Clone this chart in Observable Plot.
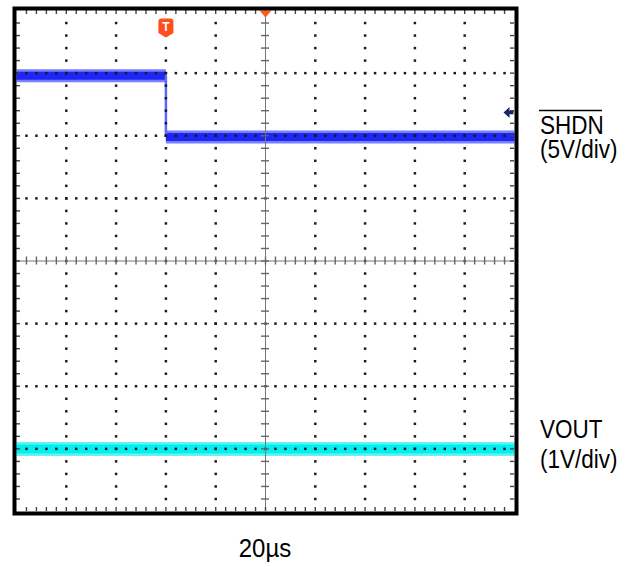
<!DOCTYPE html>
<html>
<head>
<meta charset="utf-8">
<script src="https://cdn.jsdelivr.net/npm/d3@7"></script>
<script src="https://cdn.jsdelivr.net/npm/@observablehq/plot@0.6"></script>
<style>
  html, body { margin: 0; padding: 0; background: #fff; overflow: hidden; }
  #chart svg { display: block; }
</style>
</head>
<body>
<div id="chart"></div>
<script>
// ---- Data (oscilloscope divisions; x: time div, y: vertical div) ----
const shdnHighTime = [-5, -2];
const shdnHighLevel = [2.96, 2.96];
const shdnLowTime = [-2, 5];
const shdnLowLevel = [1.98, 1.98];
const shdnEdgeTime = [-2];
const shdnEdgeFrom = [2.96];
const shdnEdgeTo = [1.98];
const voutTime = [-5, 5];
const voutLevel = [-3, -3];
const triggerTime = [-2];
const triggerPosition = [0];
const shdnRefLevel = [2.37];
const channelLabels = ["SHDN", "(5V/div)", "VOUT", "(1V/div)"];
const timebaseLabel = "20µs";

// ---- Layout ----
const W = 632, H = 567;
const mL = 16, mR = 118, mT = 10, mB = 56;
const pxX = (W - mL - mR) / 10;
const pxY = (H - mT - mB) / 8;

const high = shdnHighTime.map((t, i) => ({t, v: shdnHighLevel[i]}));
const low = shdnLowTime.map((t, i) => ({t, v: shdnLowLevel[i]}));
const vout = voutTime.map((t, i) => ({t, v: voutLevel[i]}));
const edge = shdnEdgeTime.map((t, i) => ({t, y1: shdnEdgeFrom[i], y2: shdnEdgeTo[i]}));

// grid
const round = v => Math.round(v * 100) / 100;
const minorX = d3.range(-24, 25).map(i => round(i * 0.2));
const minorY = d3.range(-19, 20).map(i => round(i * 0.2));
const gridDots = [];
for (const gx of [-4, -3, -2, -1, 1, 2, 3, 4]) for (const y of minorY) gridDots.push({x: gx, y});
for (const gy of [-3, -2, -1, 1, 2, 3]) for (const x of minorX) gridDots.push({x, y: gy});

const tL = 4; // edge tick length px
const tC = 4; // center tick half length px

const shield = {draw(ctx) {
  ctx.moveTo(-7.5, -6.5);
  ctx.quadraticCurveTo(-7.5, -9.5, -4.5, -9.5);
  ctx.lineTo(4.5, -9.5);
  ctx.quadraticCurveTo(7.5, -9.5, 7.5, -6.5);
  ctx.lineTo(7.5, 5);
  ctx.lineTo(0, 9.5);
  ctx.lineTo(-7.5, 5);
  ctx.closePath();
}};
const downTri = {draw(ctx) {
  ctx.moveTo(-6, -3.5); ctx.lineTo(6, -3.5); ctx.lineTo(0, 3.5); ctx.closePath();
}};
const leftArrow = {draw(ctx) {
  ctx.moveTo(-5, 0); ctx.lineTo(1, -5.5); ctx.lineTo(1, -1.6);
  ctx.lineTo(5, -1.6); ctx.lineTo(5, 1.6); ctx.lineTo(1, 1.6);
  ctx.lineTo(1, 5.5); ctx.closePath();
}};

const chart = Plot.plot({
  width: W, height: H,
  marginLeft: mL, marginRight: mR, marginTop: mT, marginBottom: mB,
  x: {domain: [-5, 5], axis: null},
  y: {domain: [-4, 4], axis: null},
  style: {background: "#fff"},
  marks: [
    // traces
    Plot.line(high, {x: "t", y: "v", stroke: "#7480ff", strokeWidth: 13, strokeLinecap: "butt"}),
    Plot.line(high, {x: "t", y: "v", stroke: "#1f26f4", strokeWidth: 8, strokeLinecap: "butt"}),
    Plot.line(low, {x: "t", y: "v", stroke: "#7480ff", strokeWidth: 13, strokeLinecap: "butt"}),
    Plot.line(low, {x: "t", y: "v", stroke: "#1f26f4", strokeWidth: 8, strokeLinecap: "butt"}),
    Plot.ruleX(edge, {x: "t", y1: "y1", y2: "y2", stroke: "#5a66ff", strokeWidth: 2.5}),
    Plot.line(vout, {x: "t", y: "v", stroke: "#66f2f2", strokeWidth: 14, strokeLinecap: "butt"}),
    Plot.line(vout, {x: "t", y: "v", stroke: "#00f0f0", strokeWidth: 9, strokeLinecap: "butt"}),
    // dotted grid
    Plot.dot(gridDots, {x: "x", y: "y", symbol: "square", r: 1.4, fill: "#1a1a1a", stroke: null}),
    // center axes
    Plot.ruleY([0], {stroke: "#777", strokeWidth: 1}),
    Plot.ruleX([0], {stroke: "#777", strokeWidth: 1}),
    Plot.ruleX(minorX, {y1: -tC / pxY, y2: tC / pxY, stroke: "#666", strokeWidth: 1.4}),
    Plot.ruleY(minorY, {x1: -tC / pxX, x2: tC / pxX, stroke: "#666", strokeWidth: 1.4}),
    // edge ticks
    Plot.ruleX(minorX, {y1: 4, y2: 4 - tL / pxY, stroke: "#444", strokeWidth: 1.4}),
    Plot.ruleX(minorX, {y1: -4, y2: -4 + tL / pxY, stroke: "#444", strokeWidth: 1.4}),
    Plot.ruleY(minorY, {x1: -5, x2: -5 + tL / pxX, stroke: "#444", strokeWidth: 1.4}),
    Plot.ruleY(minorY, {x1: 5, x2: 5 - tL / pxX, stroke: "#444", strokeWidth: 1.4}),
    // markers
    Plot.dot(triggerTime, {x: d => d, y: 4, dy: 17.5, symbol: shield, r: 5, fill: "#ff4d1c", stroke: null}),
    Plot.text(triggerTime, {x: d => d, y: 4, dy: 16.5, text: () => "T", fill: "white", fontSize: 12, fontWeight: "bold", fontFamily: "Liberation Sans, Arial, sans-serif"}),
    Plot.dot(triggerPosition, {x: d => d, y: 4, dy: 3.5, symbol: downTri, r: 5, fill: "#ff5a1a", stroke: null}),
    Plot.dot(shdnRefLevel, {x: 5, y: d => d, dx: -6, symbol: leftArrow, r: 5, fill: "#1a2570", stroke: null}),
    // frame
    Plot.frame({stroke: "black", strokeWidth: 4, inset: -2})
  ]
});

document.getElementById("chart").appendChild(chart);

// channel labels and timebase
const svg = d3.select(chart);
const font = "Liberation Sans, Arial, sans-serif";
const labelX = 540;
const labelRows = [[channelLabels[0], 134], [channelLabels[1], 158], [channelLabels[2], 438], [channelLabels[3], 468]];
for (const [txt, y] of labelRows) {
  svg.append("text")
    .attr("transform", `translate(${labelX},${y}) scale(0.9,1)`)
    .attr("text-anchor", "start")
    .attr("font-family", font).attr("font-size", 25).attr("fill", "#000")
    .text(txt);
}
svg.append("line").attr("x1", 539).attr("x2", 602).attr("y1", 110.5).attr("y2", 110.5)
  .attr("stroke", "#000").attr("stroke-width", 1.5);
svg.append("text")
  .attr("transform", `translate(${mL + 5 * pxX},557) scale(0.96,1)`)
  .attr("text-anchor", "middle")
  .attr("font-family", font).attr("font-size", 25).attr("fill", "#000")
  .text(timebaseLabel);
</script>
</body>
</html>
